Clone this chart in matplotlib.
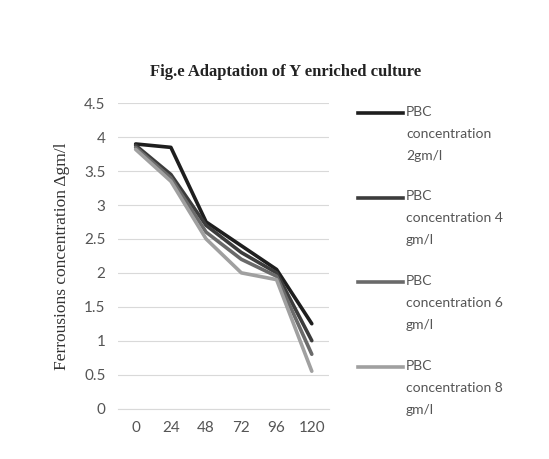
import numpy as np
import matplotlib.pyplot as plt
from matplotlib.lines import Line2D

hours = ['0', '24', '48', '72', '96', '120']
pbc_2 = [3.90, 3.85, 2.75, 2.40, 2.05, 1.25]
pbc_4 = [3.88, 3.45, 2.70, 2.30, 2.00, 1.00]
pbc_6 = [3.85, 3.40, 2.60, 2.20, 1.95, 0.80]
pbc_8 = [3.82, 3.35, 2.50, 2.00, 1.90, 0.55]
labels = ['PBC\nconcentration\n2gm/l', 'PBC\nconcentration 4\ngm/l',
          'PBC\nconcentration 6\ngm/l', 'PBC\nconcentration 8\ngm/l']
colors = ['#1e1e1e', '#3c3c3c', '#6a6a6a', '#a0a0a0']

W, H = 549, 459
fig = plt.figure(figsize=(W / 100, H / 100), dpi=100)
ax = fig.add_axes([0.215, 0.11, 0.385, 0.665])

x = np.arange(len(hours))
for vals, c in zip([pbc_2, pbc_4, pbc_6, pbc_8], colors):
    ax.plot(x, vals, color=c, lw=2.6, solid_capstyle='round')

ax.set_xlim(-0.5, 5.5)
ax.set_ylim(0, 4.5)
ax.set_yticks(np.arange(0, 4.51, 0.5))
ax.set_yticklabels(['0', '0.5', '1', '1.5', '2', '2.5', '3', '3.5', '4', '4.5'])
ax.set_xticks(x)
ax.set_xticklabels(hours)
ax.grid(axis='y', color='#d9d9d9', lw=0.8)
ax.set_axisbelow(True)
for s in ax.spines.values():
    s.set_visible(False)
ax.spines['bottom'].set_visible(True)
ax.spines['bottom'].set_color('#d9d9d9')
ax.tick_params(length=0, labelsize=11, labelcolor='#555555', pad=9)
for t in ax.get_xticklabels() + ax.get_yticklabels():
    t.set_family('Lato')

ax.set_ylabel('Ferrousions concentration \u0394gm/l', family='Liberation Serif',
              fontsize=12.5, color='#333333', labelpad=10)
fig.text(0.52, 0.835, 'Fig.e Adaptation of Y enriched culture', ha='center',
         family='Liberation Serif', fontsize=12, weight='bold', color='#222222')

# legend drawn by hand so the key sits next to the first text line
y0 = 113
for i, (lab, c) in enumerate(zip(labels, colors)):
    yy = 1 - (y0 + i * 84.5) / H
    fig.add_artist(Line2D([358 / W, 403 / W], [yy, yy], color=c, lw=2.6,
                          transform=fig.transFigure))
    fig.text(406 / W, yy + 7 / H, lab, va='top', ha='left', family='Lato',
             fontsize=10, color='#555555', linespacing=2.0)

fig.savefig('out.png', dpi=100, facecolor='white')
